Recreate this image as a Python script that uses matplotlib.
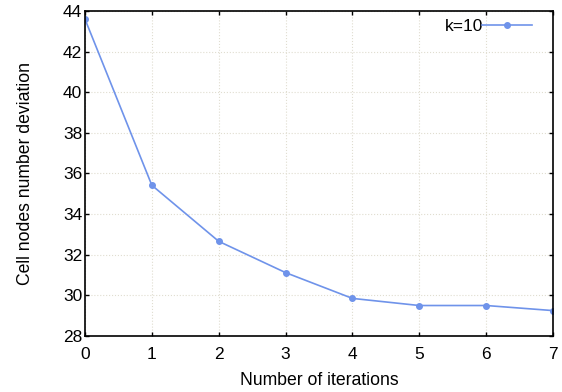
import matplotlib
matplotlib.use("Agg")
import matplotlib.pyplot as plt

plt.rcParams['font.family'] = ['Liberation Sans', 'DejaVu Sans']

iterations = [0, 1, 2, 3, 4, 5, 6, 7]
deviation = [43.6, 35.42, 32.66, 31.12, 29.85, 29.5, 29.5, 29.25]
series_label = "k=10"
xticks = [0, 1, 2, 3, 4, 5, 6, 7]
yticks = [28, 30, 32, 34, 36, 38, 40, 42, 44]

fig = plt.figure(figsize=(5.62, 3.92), dpi=100)
ax = fig.add_axes([0.1512, 0.1429, 0.8328, 0.8291])

ax.plot(iterations, deviation, color='#6f93ea', linewidth=1.2, marker='o',
        markersize=4, label=series_label)

ax.set_xlim(0, 7)
ax.set_ylim(28, 44)
ax.set_xticks(xticks)
ax.set_yticks(yticks)
ax.tick_params(direction='in', top=True, right=True, labelsize=12.5, length=3,
               width=1)
ax.tick_params(axis='x', pad=8)
ax.tick_params(axis='y', pad=2)
ax.grid(True, color='#e0ddd0', linestyle=':', linewidth=0.8)
for s in ax.spines.values():
    s.set_linewidth(1.2)

ax.set_xlabel("Number of iterations", fontsize=12.7, labelpad=7)
ax.set_ylabel("Cell nodes number deviation", fontsize=12.7, labelpad=21)

ax.legend(loc='upper right', frameon=False, markerfirst=False, fontsize=12.5,
          handlelength=2.9, handletextpad=-0.1, borderaxespad=0, borderpad=0,
          bbox_to_anchor=(0.955, 0.977))

fig.savefig("out.png", dpi=100)
